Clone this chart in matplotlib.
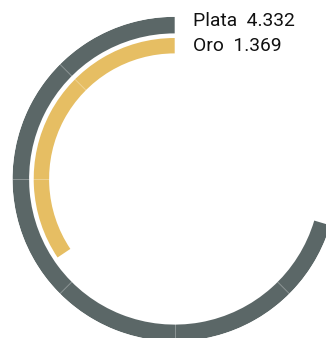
import numpy as np
import matplotlib
matplotlib.use("Agg")
import matplotlib.pyplot as plt

# Data
names = ["Plata", "Oro"]
values = [4.332, 1.369]
colors = ["#5B6767", "#E6BE63"]

# Angle axis range (value mapped to a full turn)
ang_min, ang_max = -1.462, 6.769

W, H = 326, 338
fig = plt.figure(figsize=(W / 100, H / 100), dpi=100)
cx, cy, R = 174.7, 179.0, 162.2
ax = fig.add_axes([(cx - R) / W, (H - cy - R) / H, 2 * R / W, 2 * R / H],
                  projection="polar")
ax.set_theta_offset(np.pi / 2)
ax.set_theta_direction(1)
ax.set_ylim(0, R)

ring_in = [145.6, 125.6]
ring_out = [162.2, 141.0]

for name, v, c, r0, r1 in zip(names, values, colors, ring_in, ring_out):
    ext = (v - ang_min) / (ang_max - ang_min) * 2 * np.pi
    ax.bar(ext / 2, r1 - r0, width=ext, bottom=r0, color=c,
           edgecolor="none", linewidth=0, align="center", zorder=2)

ax.set_xticks(np.arange(8) * np.pi / 4)
ax.set_xticklabels([])
ax.set_yticks([])
ax.xaxis.grid(True, color="white", alpha=0.3, linewidth=0.7)
ax.yaxis.grid(False)
ax.set_axisbelow(False)
ax.spines["polar"].set_visible(False)
ax.patch.set_alpha(0)

for i, (name, v) in enumerate(zip(names, values)):
    fig.text(193.3 / W, 1 - (26.0 + 25.2 * i) / H, f"{name}  {v:.3f}",
             fontsize=13.9, family=["Roboto", "DejaVu Sans"], color="#111111",
             ha="left", va="baseline")

fig.savefig("out.png", dpi=100)
